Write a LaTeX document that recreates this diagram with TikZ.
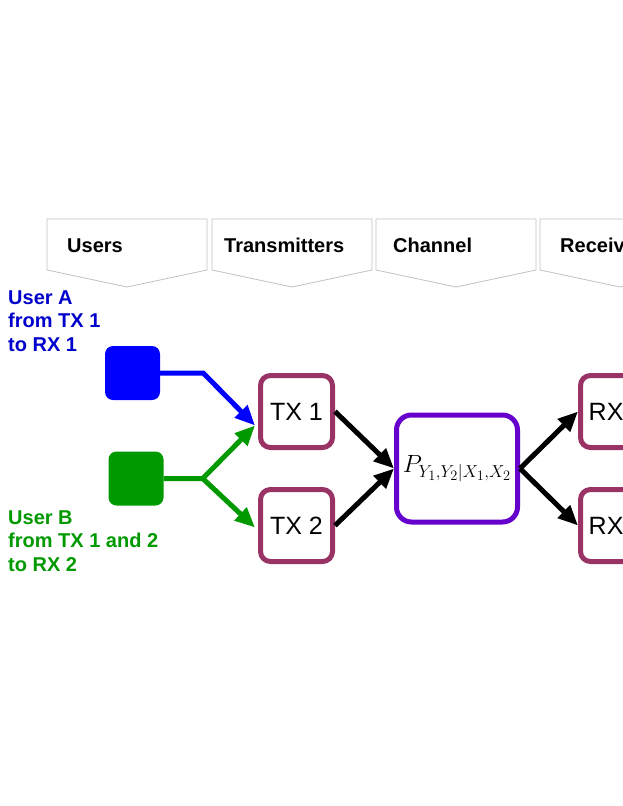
\documentclass[tikz,border=0pt]{standalone}
\usepackage{fontspec}
\setmainfont{Liberation Sans}
\usetikzlibrary{positioning}
\usetikzlibrary{calc}
\usetikzlibrary{arrows.meta}

\definecolor{headgray}{HTML}{C0C0C0}
\definecolor{userablue}{HTML}{0000FF}
\definecolor{userbgreen}{HTML}{009900}
\definecolor{txframe}{HTML}{993366}
\definecolor{chanframe}{HTML}{6600CC}

\begin{document}
\begin{tikzpicture}[
        x=1pt,
        y=-1pt,
        header/.style={
            draw=headgray,
            line width=0.8pt,
        },
        headlabel/.style={
            anchor=base west,
            inner sep=0pt,
            font=\fontsize{20}{23}\selectfont\bfseries,
        },
        userlabel/.style={
            anchor=north west,
            align=left,
            inner sep=0pt,
            font=\fontsize{20}{23.3}\selectfont\bfseries,
        },
        userbox/.style={
            rectangle,
            rounded corners=8pt,
            minimum width=55pt,
            minimum height=54pt,
            inner sep=0pt,
        },
        station/.style={
            draw=txframe,
            line width=5pt,
            rectangle,
            rounded corners=10pt,
            minimum size=72pt,
            inner sep=0pt,
            font=\fontsize{25}{25}\selectfont,
        },
        flow/.style={
            line width=5pt,
            -{Triangle[length=20pt,width=17pt]},
        },
    ]
    \useasboundingbox (0,0) rectangle (623,806);
    \clip (0,0) rectangle (623,806);

    % Header chevrons.
    \draw[header] (47,219) -- ++(160,0) -- ++(0,51) -- ++(-80,17) -- ++(-80,-17) -- cycle;
    \draw[header] (212,219) -- ++(160,0) -- ++(0,51) -- ++(-80,17) -- ++(-80,-17) -- cycle;
    \draw[header] (376,219) -- ++(160,0) -- ++(0,51) -- ++(-80,17) -- ++(-80,-17) -- cycle;
    \draw[header] (540,219) -- ++(160,0) -- ++(0,51) -- ++(-80,17) -- ++(-80,-17) -- cycle;

    \node[headlabel] (husers) at (67,252) {Users};
    \node[headlabel] (htx) at (224,252) {Transmitters};
    \node[headlabel] (hchan) at (393,252) {Channel};
    \node[headlabel] (hrx) at (560,252) {Receivers};

    % Users.
    \node[userlabel, text=userablue!80!black] (labela) at (8,290.5) {User A\\from TX 1\\to RX 1};
    \node[userlabel, text=userbgreen] (labelb) at (8,510.5) {User B\\from TX 1 and 2\\to RX 2};

    \node[userbox, fill=userablue] (usera) at (132.5,373) {};
    \node[userbox, fill=userbgreen] (userb) at (136,478.5) {};

    % Transmitters, channel and receivers.
    \node[station] (tx1) at (296.5,411.5) {TX 1};
    \node[station, below=37pt of tx1] (tx2) {TX 2};

    \coordinate (mid) at ($(tx1.east)!0.5!(tx2.east)$);
    \node[station, draw=chanframe, rounded corners=15pt, minimum width=121pt,
        minimum height=107pt, font=\fontsize{26.5}{26.5}\selectfont,
        right=59pt of mid] (chan) {$P_{Y_1,Y_2|X_1,X_2}$};

    \node[station, right=243pt of tx1] (rx1) {RX 1};
    \node[station, right=243pt of tx2] (rx2) {RX 2};

    % Draw user paths.
    \coordinate[right=43pt of usera] (ja);
    \coordinate[right=39pt of userb] (jb);
    \coordinate (tipa) at ([shift={(-3pt,-14pt)}]tx1.west);
    \coordinate (tipb) at ([shift={(-3pt,-2pt)}]tx2.west);

    \draw[flow, userablue] (usera.east) -- (ja) -- (tipa);
    \draw[flow, userbgreen] (userb.east) -- (jb) -- (tipa);
    \draw[flow, userbgreen] (jb) -- (tipb);

    % Draw channel paths.
    \draw[flow] (tx1.east) -- (chan.west);
    \draw[flow] (tx2.east) -- (chan.west);
    \draw[flow] (chan.east) -- (rx1.west);
    \draw[flow] (chan.east) -- (rx2.west);

\end{tikzpicture}
\end{document}
